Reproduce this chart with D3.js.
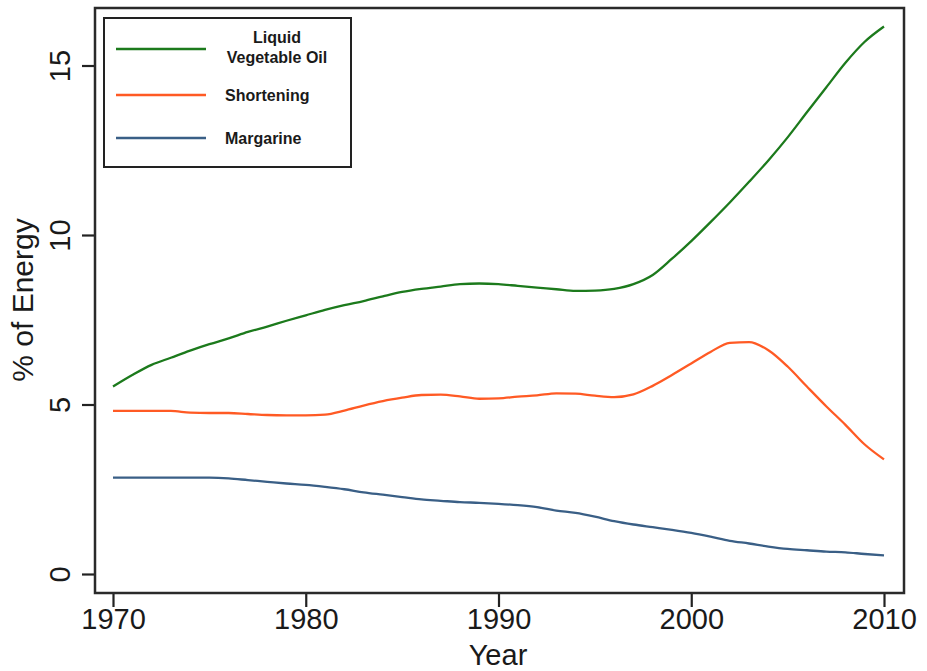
<!DOCTYPE html>
<html>
<head>
<meta charset="utf-8">
<script src="https://cdn.jsdelivr.net/npm/d3@7"></script>
<style>
  body { margin: 0; background: #ffffff; }
  #my_dataviz_fats { width: 927px; height: 671px; overflow: hidden; }
  text { font-family: "Liberation Sans", Arial, Helvetica, sans-serif; fill: #1a1a1a; }
</style>
</head>
<body>
<div id="my_dataviz_fats"></div>
<script>
// data, one value per year
const years = d3.range(1970, 2011);

const liquidVegOil = [5.53, 5.87, 6.17, 6.38, 6.59, 6.78, 6.95, 7.14, 7.3, 7.47,
  7.63, 7.79, 7.93, 8.05, 8.19, 8.32, 8.41, 8.48, 8.55, 8.57,
  8.55, 8.5, 8.45, 8.4, 8.35, 8.36, 8.41, 8.55, 8.82, 9.3,
  9.82, 10.38, 10.96, 11.57, 12.2, 12.88, 13.62, 14.35, 15.08, 15.7, 16.15];

const shortening = [4.81, 4.81, 4.81, 4.81, 4.76, 4.75, 4.75, 4.72, 4.69, 4.68,
  4.68, 4.7, 4.82, 4.97, 5.1, 5.2, 5.28, 5.29, 5.24, 5.17,
  5.18, 5.23, 5.27, 5.33, 5.32, 5.26, 5.22, 5.3, 5.55, 5.87,
  6.21, 6.55, 6.82, 6.84, 6.6, 6.12, 5.53, 4.95, 4.4, 3.82, 3.38];

const margarine = [2.84, 2.84, 2.84, 2.84, 2.84, 2.84, 2.82, 2.77, 2.72, 2.67,
  2.63, 2.57, 2.5, 2.41, 2.34, 2.27, 2.2, 2.16, 2.12, 2.1,
  2.07, 2.03, 1.97, 1.87, 1.8, 1.69, 1.56, 1.46, 1.38, 1.3,
  1.21, 1.1, 0.98, 0.9, 0.81, 0.74, 0.7, 0.66, 0.64, 0.59, 0.55];

const seriesNames = ["Liquid\nVegetable Oil", "Shortening", "Margarine"];
const seriesColors = ["#1c7a1c", "#ff5a24", "#3a5f86"];
const xTicks = [1970, 1980, 1990, 2000, 2010];
const yTicks = [0, 5, 10, 15];

function generate_svg_fats(){
  // set the dimensions and margins of the graph
  const margin = {top: 8, right: 23, bottom: 78, left: 95};
  const width = 927 - margin.left - margin.right;   // 809
  const height = 671 - margin.top - margin.bottom;  // 585

  const svg = d3.select("#my_dataviz_fats")
    .append("svg")
      .attr("width", 927)
      .attr("height", 671)
    .append("g")
      .attr("transform", `translate(${margin.left}, ${margin.top})`);

  const dataReady = [liquidVegOil, shortening, margarine].map(function(vals, i) {
    return {
      name: seriesNames[i],
      color: seriesColors[i],
      values: years.map((yr, j) => ({time: yr, value: vals[j]}))
    };
  });

  const x = d3.scaleLinear()
    .domain([1970, 2010])
    .range([18, 789]);

  const y = d3.scaleLinear()
    .domain([0, 15])
    .range([566, 57.5]);

  // x axis
  const xAxis = svg.append("g")
    .attr("transform", `translate(0, ${height})`)
    .call(d3.axisBottom(x).tickValues(xTicks).tickSize(14).tickPadding(8).tickFormat(d3.format("d")));
  xAxis.select(".domain").remove();
  xAxis.selectAll("line").attr("stroke", "#222").attr("stroke-width", 2.2);
  xAxis.selectAll("text")
    .style("font-size", "29px")
    .attr("y", 36)
    .attr("dy", 0);

  // y axis, labels turned on their side
  const yAxis = svg.append("g")
    .call(d3.axisLeft(y).tickValues(yTicks).tickSize(13));
  yAxis.select(".domain").remove();
  yAxis.selectAll("line").attr("stroke", "#222").attr("stroke-width", 2.2);
  yAxis.selectAll("text")
    .style("font-size", "29px")
    .attr("transform", "rotate(-90)")
    .attr("x", 0)
    .attr("y", -25)
    .attr("dy", 0)
    .style("text-anchor", "middle");

  // frame
  svg.append("rect")
    .attr("x", 0)
    .attr("y", 0)
    .attr("width", width)
    .attr("height", height)
    .attr("fill", "none")
    .attr("stroke", "#2a2a2a")
    .attr("stroke-width", 2.5);

  // axis titles
  svg.append("text")
    .attr("x", 403)
    .attr("y", 657)
    .style("text-anchor", "middle")
    .style("font-size", "29px")
    .text("Year");

  svg.append("text")
    .attr("transform", "rotate(-90)")
    .attr("x", -292)
    .attr("y", -62)
    .style("text-anchor", "middle")
    .style("font-size", "30px")
    .text("% of Energy");

  // lines
  const line = d3.line()
    .x(d => x(d.time))
    .y(d => y(d.value))
    .curve(d3.curveMonotoneX);

  svg.selectAll("myLines")
    .data(dataReady)
    .join("path")
      .attr("d", d => line(d.values))
      .attr("stroke", d => d.color)
      .style("stroke-width", 2.3)
      .style("fill", "none");

  // legend
  const legend = svg.append("g").attr("transform", "translate(9, 10)");
  legend.append("rect")
    .attr("x", 0)
    .attr("y", 0)
    .attr("width", 247)
    .attr("height", 149)
    .attr("fill", "white")
    .attr("stroke", "#222")
    .attr("stroke-width", 2);

  const rowY = [31, 77, 120];
  dataReady.forEach(function(d, i) {
    legend.append("line")
      .attr("x1", 12)
      .attr("x2", 102)
      .attr("y1", rowY[i])
      .attr("y2", rowY[i])
      .attr("stroke", d.color)
      .attr("stroke-width", 2.3);
    const parts = d.name.split("\n");
    if (parts.length > 1) {
      legend.append("text")
        .attr("x", 173)
        .attr("y", 25)
        .style("text-anchor", "middle")
        .style("font-size", "16px")
        .style("font-weight", "bold")
        .text(parts[0]);
      legend.append("text")
        .attr("x", 173)
        .attr("y", 45)
        .style("text-anchor", "middle")
        .style("font-size", "16px")
        .style("font-weight", "bold")
        .text(parts[1]);
    } else {
      legend.append("text")
        .attr("x", 121)
        .attr("y", rowY[i] + 6)
        .style("font-size", "16px")
        .style("font-weight", "bold")
        .text(parts[0]);
    }
  });
}

generate_svg_fats();
</script>
</body>
</html>
